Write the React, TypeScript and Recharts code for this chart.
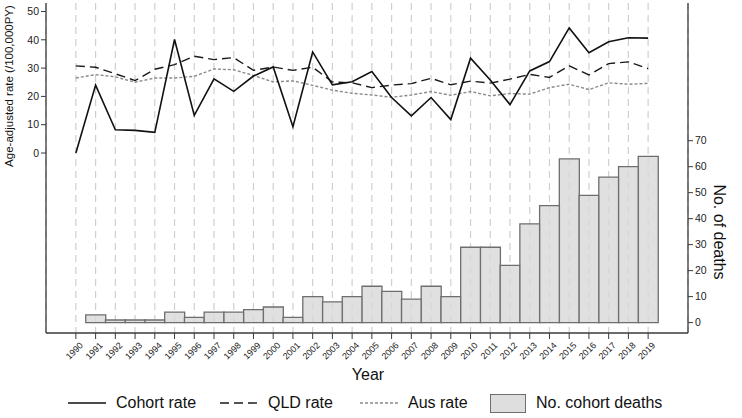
import React from 'react';
import {
  ComposedChart,
  Bar,
  Line,
  XAxis,
  YAxis,
  CartesianGrid,
} from 'recharts';

const years = [
  '1990', '1991', '1992', '1993', '1994', '1995', '1996', '1997', '1998', '1999',
  '2000', '2001', '2002', '2003', '2004', '2005', '2006', '2007', '2008', '2009',
  '2010', '2011', '2012', '2013', '2014', '2015', '2016', '2017', '2018', '2019',
];
const cohortRate = [
  0, 24, 8.2, 8.0, 7.3, 40.1, 13.3, 26.2, 21.8, 27.2,
  30.4, 9.3, 35.7, 24.1, 25.2, 28.8, 19.6, 13.1, 19.6, 11.8,
  33.5, 25.8, 17.1, 29.0, 32.3, 44.2, 35.4, 39.3, 40.7, 40.6,
];
const qldRate = [
  30.8, 30.3, 28.0, 25.6, 29.6, 31.2, 34.2, 33.0, 33.7, 29.2,
  30.4, 29.2, 30.3, 25.1, 24.8, 23.1, 24.0, 24.5, 26.4, 24.1,
  25.4, 24.7, 26.1, 27.8, 26.7, 30.8, 27.6, 31.6, 32.2, 29.8,
];
const ausRate = [
  26.5, 27.7, 26.9, 25.0, 26.5, 26.5, 27.1, 29.7, 29.4, 27.4,
  25.1, 25.5, 23.9, 22.2, 21.1, 20.5, 19.7, 20.5, 21.7, 20.4,
  21.7, 20.2, 21.0, 20.8, 23.1, 24.3, 22.4, 24.8, 24.3, 24.6,
];
const cohortDeaths = [
  0, 3, 1, 1, 1, 4, 2, 4, 4, 5,
  6, 2, 10, 8, 10, 14, 12, 9, 14, 10,
  29, 29, 22, 38, 45, 63, 49, 56, 60, 64,
];
const rateTicks = [0, 10, 20, 30, 40, 50];
const deathTicks = [0, 10, 20, 30, 40, 50, 60, 70];

const data = years.map((year, i) => ({
  year,
  cohort: cohortRate[i],
  qld: qldRate[i],
  aus: ausRate[i],
  deaths: cohortDeaths[i],
}));

const FONT = '"Liberation Sans", Arial, Helvetica, sans-serif';
const AXIS = '#3a3a3a';

const YearTick = ({ x, y, payload }: any) => (
  <g transform={`translate(${x},${y})`}>
    <text
      x={2}
      y={0}
      dy={9}
      textAnchor="end"
      transform="rotate(-45)"
      fontSize={9}
      fontFamily={FONT}
      fill="#222"
    >
      {payload.value}
    </text>
  </g>
);

const LegendItem = ({ sample, label, left }: { sample: React.ReactNode; label: string; left: number }) => (
  <div style={{ position: 'absolute', left, top: 392, display: 'flex', alignItems: 'center', height: 22 }}>
    {sample}
    <span style={{ fontSize: 16, fontFamily: FONT, color: '#111', marginLeft: 10 }}>{label}</span>
  </div>
);

const lineSample = (dash?: string, color = '#111', width = 1.6) => (
  <svg width={38} height={10}>
    <line x1={0} y1={5} x2={38} y2={5} stroke={color} strokeWidth={width} strokeDasharray={dash} />
  </svg>
);

export default function App() {
  return (
    <div style={{ position: 'absolute', left: 0, top: 0, width: 742, height: 418, background: '#fff', fontFamily: FONT }}>
      <ComposedChart
        width={742}
        height={418}
        data={data}
        margin={{ top: 3, right: 10, left: 10, bottom: 0 }}
        barCategoryGap={0}
      >
        <CartesianGrid horizontal={false} stroke="#cfcfcf" strokeDasharray="7 5" strokeWidth={1.2} />
        <XAxis
          dataKey="year"
          interval={0}
          height={85}
          padding={{ left: 20, right: 30 }}
          tick={<YearTick />}
          tickSize={6}
          tickLine={{ stroke: AXIS }}
          axisLine={{ stroke: AXIS, strokeWidth: 1.3 }}
        />
        <YAxis
          yAxisId="rate"
          domain={[-63.6, 53]}
          ticks={rateTicks}
          allowDataOverflow
          width={36}
          tickSize={5}
          tick={{ fontSize: 10.5, fill: '#222', fontFamily: FONT }}
          tickLine={{ stroke: AXIS }}
          axisLine={{ stroke: AXIS, strokeWidth: 1.3 }}
        />
        <YAxis
          yAxisId="deaths"
          orientation="right"
          domain={[-4, 123]}
          ticks={deathTicks}
          allowDataOverflow
          width={44}
          tickSize={5}
          tick={{ fontSize: 10.5, fill: '#222', fontFamily: FONT }}
          tickLine={{ stroke: AXIS }}
          axisLine={{ stroke: AXIS, strokeWidth: 1.3 }}
        />
        <Bar
          yAxisId="deaths"
          dataKey="deaths"
          fill="#d8d8d8"
          fillOpacity={0.8}
          stroke="#6e6e6e"
          strokeWidth={1.3}
          isAnimationActive={false}
        />
        <Line
          yAxisId="rate"
          dataKey="aus"
          type="linear"
          stroke="#8a8a8a"
          strokeWidth={1.4}
          strokeDasharray="3 2"
          dot={false}
          isAnimationActive={false}
        />
        <Line
          yAxisId="rate"
          dataKey="qld"
          type="linear"
          stroke="#1a1a1a"
          strokeWidth={1.4}
          strokeDasharray="9 5"
          dot={false}
          isAnimationActive={false}
        />
        <Line
          yAxisId="rate"
          dataKey="cohort"
          type="linear"
          stroke="#111"
          strokeWidth={1.6}
          dot={false}
          isAnimationActive={false}
        />
      </ComposedChart>

      <div
        style={{
          position: 'absolute',
          left: 9,
          top: 86,
          transform: 'translate(-50%, -50%) rotate(-90deg)',
          whiteSpace: 'nowrap',
          fontSize: 11.5,
          color: '#111',
        }}
      >
        Age-adjusted rate (/100,000PY)
      </div>
      <div
        style={{
          position: 'absolute',
          left: 719,
          top: 232,
          transform: 'translate(-50%, -50%) rotate(90deg)',
          whiteSpace: 'nowrap',
          fontSize: 16,
          color: '#111',
        }}
      >
        No. of deaths
      </div>
      <div
        style={{
          position: 'absolute',
          left: 368,
          top: 375,
          transform: 'translate(-50%, -50%)',
          fontSize: 16,
          color: '#111',
        }}
      >
        Year
      </div>

      <LegendItem left={68} label="Cohort rate" sample={lineSample()} />
      <LegendItem left={220} label="QLD rate" sample={lineSample('9 5', '#1a1a1a', 1.4)} />
      <LegendItem left={360} label="Aus rate" sample={lineSample('3 2', '#8a8a8a', 1.4)} />
      <LegendItem
        left={490}
        label="No. cohort deaths"
        sample={<div style={{ width: 36, height: 19, background: '#dedede', border: '1.3px solid #6e6e6e', boxSizing: 'border-box' }} />}
      />
    </div>
  );
}
